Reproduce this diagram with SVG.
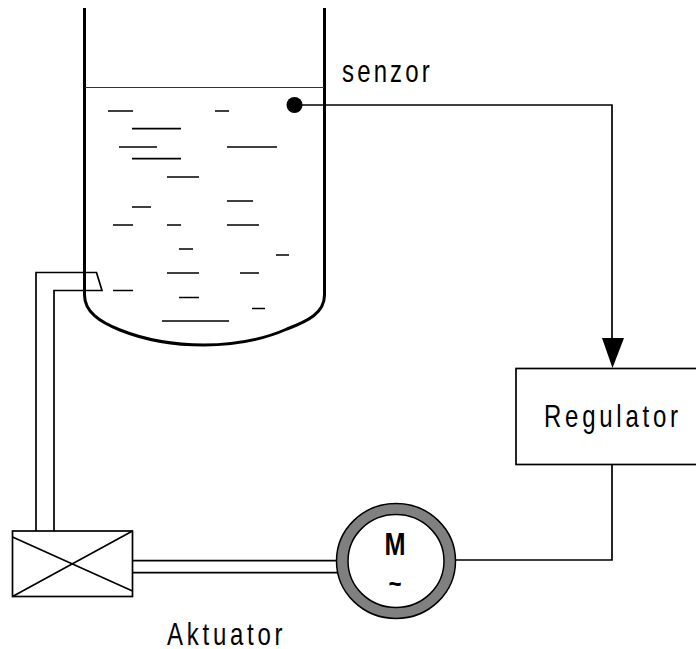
<svg xmlns="http://www.w3.org/2000/svg" width="696" height="649" viewBox="0 0 696 649">
<style>
.l{fill:none;stroke:#000;stroke-width:1.7}
.d{fill:none;stroke:#000;stroke-width:1.7}
.t{font-family:"Liberation Sans",Arial,sans-serif;font-size:32px;fill:#000;letter-spacing:5px}
.b{font-family:"Liberation Sans",Arial,sans-serif;font-weight:bold;fill:#000;text-anchor:middle}
</style>
<rect width="696" height="649" fill="#fff"/>
<g id="tank">
<path d="M84.500 8V295C84.500 312 100 322 120 330C145 340 175 345 204 345C235 345 262 340 287 329C308 321 324.500 313 324.500 295V8" fill="none" stroke="#000" stroke-width="3"/>
<path d="M85 87.500H324" fill="none" stroke="#333" stroke-width="1.200"/>
<path class="d" d="M108 111H133M215 111H229M132 128.700H181M119 147H157M227 147H277M132 158.700H181M167 177H199M227 201H253M132 207H151M113 225H133M167 225H181M227 225H259M179 249H193M276 255H289M167 273H199M240 273H259M113 290.500H133M179 297.500H199M252 308.500H265M162 321H229"/>
</g>
<g id="sensor">
<circle cx="294.500" cy="105" r="8" fill="#000"/>
<text class="t" style="letter-spacing:4.200px" transform="translate(342 81.500) scale(.75 1)">senzor</text>
</g>
<g id="regulator">
<rect class="l" x="516" y="368.500" width="190" height="96"/>
<text class="t" transform="translate(544 427) scale(.75 1)">Regulator</text>
</g>
<g id="motor">
<ellipse cx="396" cy="561" rx="59.500" ry="57.500" fill="#808080" stroke="#000" stroke-width="1.500"/>
<ellipse cx="396" cy="561" rx="48" ry="46.500" fill="#fff" stroke="#000" stroke-width="1.500"/>
<text class="b" transform="translate(395 555) scale(.79 1)" font-size="32">M</text>
<text class="b" transform="translate(395 593) scale(.8 1)" font-size="28">~</text>
</g>
<g id="actuator">
<rect class="l" x="12.500" y="531" width="120" height="65.500"/>
<path class="l" d="M12.500 537L132.500 591M12.500 596.500L132.500 531"/>
<text class="t" transform="translate(167 645) scale(.75 1)">Aktuator</text>
</g>
<g id="connectors">
<path class="l" d="M36 531V272.500H96.500L102 290.500H54V531"/>
<path class="l" d="M132.500 560.700H337M132.500 572.700H337"/>
<path class="l" d="M302 105H612V340"/>
<path d="M602 338H624L612.500 368Z" fill="#000"/>
<path class="l" d="M612 464.500V560H456"/>
</g>
</svg>
